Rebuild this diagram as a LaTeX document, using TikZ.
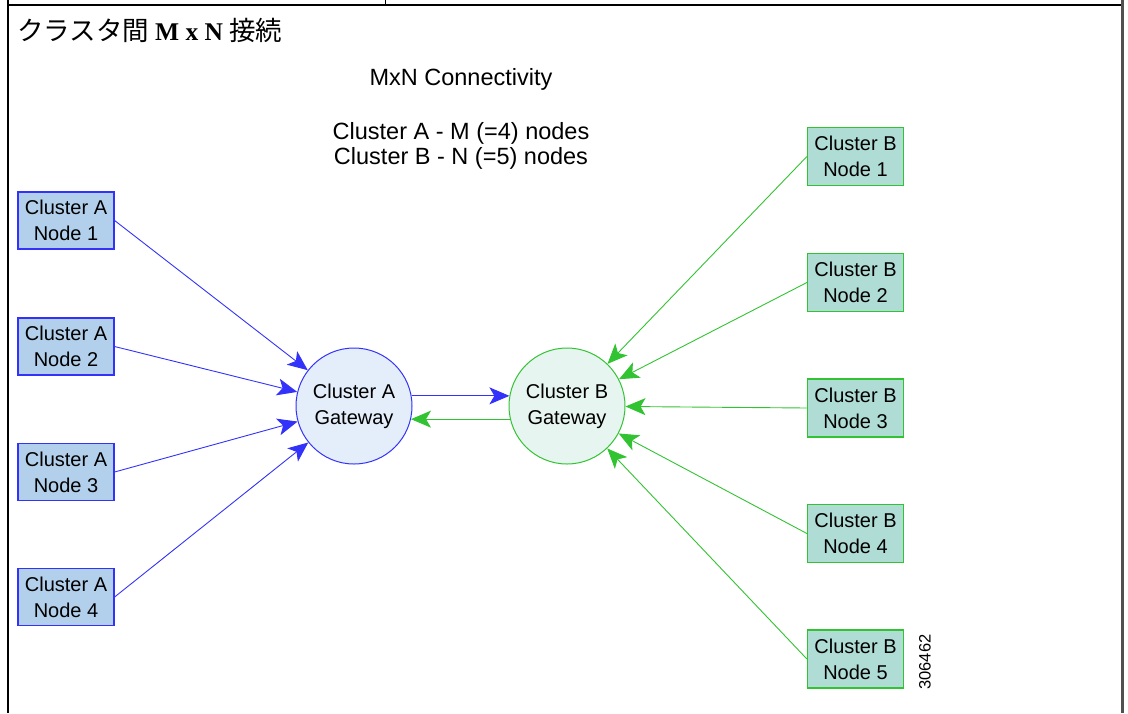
\documentclass[tikz,border=0pt]{standalone}
\usepackage{fontspec}
\setmainfont{Liberation Serif}
\setsansfont{Liberation Sans}
\newfontfamily\cjk{Noto Sans CJK JP}
\usetikzlibrary{arrows.meta}
\definecolor{ablue}{RGB}{50,50,250}
\definecolor{afill}{RGB}{178,208,236}
\definecolor{gafill}{RGB}{228,238,250}
\definecolor{bgreen}{RGB}{50,195,50}
\definecolor{bfill}{RGB}{176,220,214}
\definecolor{gbfill}{RGB}{230,245,240}
\definecolor{frame}{RGB}{80,80,80}
\tikzset{
  nodetext/.style={font=\sffamily\fontsize{20}{26}\selectfont, align=center, text=black},
  anode/.style={nodetext, rectangle, draw=ablue, fill=afill, line width=1.2pt, minimum width=96pt, minimum height=57pt, inner sep=0pt},
  bnode/.style={nodetext, rectangle, draw=bgreen, fill=bfill, line width=1.2pt, minimum width=96pt, minimum height=58pt, inner sep=0pt},
  gwa/.style={nodetext, circle, draw=ablue, fill=gafill, line width=1pt, minimum size=116pt, inner sep=0pt},
  gwb/.style={nodetext, circle, draw=bgreen, fill=gbfill, line width=1pt, minimum size=116pt, inner sep=0pt},
  aarrow/.style={draw=ablue, line width=0.9pt, -{Stealth[length=20pt,width=17pt,inset=5pt]}},
  barrow/.style={draw=bgreen, line width=0.9pt, -{Stealth[length=20pt,width=17pt,inset=5pt]}},
  heading/.style={font=\sffamily\fontsize{23.5}{25}\selectfont, align=center, inner sep=0pt}
}
\begin{document}
\begin{tikzpicture}[x=1pt,y=-1pt]
\useasboundingbox (0,0) rectangle (1128,713);
% frame
\draw[black, line width=2pt] (8,0) -- (8,713);
\draw[black, line width=2pt] (8,4.5) -- (1121,4.5);
\draw[black, line width=1pt] (385,0) -- (385,4.5);
\draw[frame, line width=3pt] (1122.5,0) -- (1122.5,713);
% title
\node[anchor=west, inner sep=0pt] (title) at (17,30) {\cjk\fontsize{26.5}{28}\selectfont クラスタ間 {\rmfamily\bfseries\fontsize{25.5}{28}\selectfont M x N} 接続};
% headings
\node[heading] (hd) at (461,79) {MxN Connectivity};
\node[heading] (sub) at (461,146) {Cluster A - M (=4) nodes\\Cluster B - N (=5) nodes};
% gateways
\node[gwa] (ga) at (354,406) {Cluster A\\Gateway};
\node[gwb] (gb) at (567,406) {Cluster B\\Gateway};
% cluster A nodes
\node[anode] (a1) at (66,220.5) {Cluster A\\Node 1};
\node[anode] (a2) at (66,346.5) {Cluster A\\Node 2};
\node[anode] (a3) at (66,472) {Cluster A\\Node 3};
\node[anode] (a4) at (66,597) {Cluster A\\Node 4};
% cluster B nodes
\node[bnode] (b1) at (855.5,156.5) {Cluster B\\Node 1};
\node[bnode] (b2) at (855.5,282.5) {Cluster B\\Node 2};
\node[bnode] (b3) at (855.5,408) {Cluster B\\Node 3};
\node[bnode] (b4) at (855.5,533.5) {Cluster B\\Node 4};
\node[bnode] (b5) at (855.5,659) {Cluster B\\Node 5};
% arrows A
\draw[aarrow] (a1.east) -- (ga);
\draw[aarrow] (a2.east) -- (ga);
\draw[aarrow] (a3.east) -- (ga);
\draw[aarrow] (a4.east) -- (ga);
% arrows B
\draw[barrow] (b1.west) -- (gb);
\draw[barrow] (b2.west) -- (gb);
\draw[barrow] (b3.west) -- (gb);
\draw[barrow] (b4.west) -- (gb);
\draw[barrow] (b5.west) -- (gb);
% gateway links
\draw[aarrow] (ga.10) -- (gb.170);
\draw[barrow] (gb.-167) -- (ga.-13);
% figure number
\node[font=\sffamily\fontsize{16.5}{17}\selectfont, rotate=90, inner sep=0pt] (fig) at (925,662) {306462};
\end{tikzpicture}
\end{document}
